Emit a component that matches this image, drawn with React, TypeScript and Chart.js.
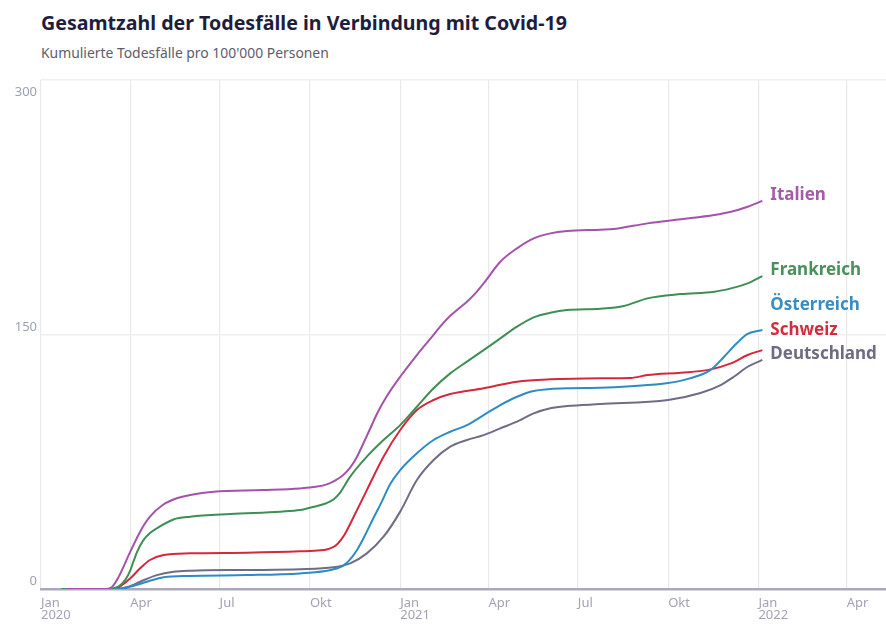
import React, { useEffect, useRef } from "react";
import { Chart, registerables } from "chart.js";

Chart.register(...registerables);

// Days since 1 Jan 2020 paired with cumulative deaths per 100'000 persons
const italien: [number, number][] = [
  [26, 0], [65, 0], [72, 1], [79, 7], [91, 22], [101, 33.8], [111, 42.6], [124, 49.5],
  [139, 53.6], [152, 55.4], [176, 57.3], [226, 58.3], [264, 59.3], [280, 60.2],
  [292, 61.8], [300, 64], [308, 67.2], [315, 71.5], [322, 78], [329, 86.5], [335, 94],
  [343, 104], [352, 113.3], [366, 125.1], [383, 137.9], [397, 147.7], [408, 155.5],
  [417, 161], [426, 165.5], [434, 169.3], [443, 174.5], [451, 180.1], [468, 192.9],
  [485, 200.8], [502, 206.7], [519, 209.6], [536, 211], [570, 211.8], [584, 212.2],
  [618, 215.5], [652, 217.9], [686, 220.4], [703, 222.3], [720, 225.3], [735, 228.8],
];

const frankreich: [number, number][] = [
  [21, 0], [68, 0], [76, 0.8], [81, 2.4], [86, 5.5], [91, 11], [95, 17.5], [98, 22],
  [104, 28.5], [111, 33], [118, 35.8], [135, 41], [152, 42.6], [193, 44.2], [244, 45.6],
  [264, 46.5], [277, 48.3], [290, 50.4], [298, 52.8], [305, 57], [315, 66.2], [332, 78],
  [349, 87.8], [366, 96.6], [383, 107.4], [400, 118.3], [417, 127.1], [434, 134],
  [451, 140.8], [468, 147.7], [485, 154.6], [502, 160.1], [519, 162.8], [536, 164.4],
  [570, 165.2], [594, 166.8], [618, 171.3], [652, 173.8], [686, 175.2], [703, 177.2],
  [720, 180.1], [735, 184.4],
];

const oesterreich: [number, number][] = [
  [60, 0], [75, 0], [91, 1.4], [108, 4.3], [125, 6.9], [152, 7.7], [210, 8.2],
  [264, 9.2], [290, 10.6], [300, 11.9], [308, 13.8], [315, 17.5], [322, 23], [330, 31.5],
  [338, 41], [346, 50], [356, 62], [366, 70.1], [383, 80], [400, 87.8], [417, 92.7],
  [434, 96.6], [451, 102.5], [468, 108.4], [485, 113.3], [502, 116.7], [536, 118.3],
  [570, 118.6], [601, 119.5], [639, 121.4], [660, 124], [682, 129], [696, 136.9],
  [709, 144.8], [720, 150.3], [735, 152.6],
];

const schweiz: [number, number][] = [
  [55, 0], [75, 0], [83, 2.5], [91, 6.3], [101, 12.2], [111, 17.1], [125, 20], [152, 21],
  [210, 21.4], [264, 22.2], [285, 22.8], [293, 23.6], [300, 25.5], [306, 29.3],
  [311, 33.8], [316, 39.5], [332, 58.3], [349, 78], [366, 93.7], [383, 105.5],
  [400, 111.4], [417, 114.9], [451, 118.3], [485, 122.2], [519, 123.6], [570, 124.2],
  [601, 124.4], [618, 126.1], [652, 127.5], [679, 129], [703, 133], [720, 137.9],
  [735, 140.8],
];

const deutschland: [number, number][] = [
  [40, 0], [78, 0], [90, 1.5], [101, 4.3], [118, 8.2], [135, 10.2], [152, 10.8],
  [210, 11.2], [264, 11.6], [298, 12.8], [315, 15.1], [332, 21], [349, 30.8],
  [366, 45.6], [383, 64.2], [400, 76], [417, 83.9], [434, 87.8], [451, 90.7],
  [468, 94.7], [485, 98.6], [502, 103.5], [519, 106.5], [536, 107.8], [570, 109],
  [639, 111.4], [672, 115.5], [692, 120], [706, 125.1], [720, 131], [735, 135],
];

const seriesNames = ["Italien", "Frankreich", "Österreich", "Schweiz", "Deutschland"];
const seriesData = [italien, frankreich, oesterreich, schweiz, deutschland];
const lineColors = ["#a552aa", "#3e8f55", "#2e8bc3", "#d6283b", "#6f6c85"];
const labelColors = ["#a45ba8", "#4a905b", "#3a8dc1", "#d42c3e", "#6e6c82"];

// Quarter starts as day offsets from 1 Jan 2020
const xTickDays = [0, 91, 182, 274, 366, 456, 547, 639, 731, 821];
const xTickLabels: (string | string[])[] = [
  ["Jan", "2020"], "Apr", "Jul", "Okt", ["Jan", "2021"], "Apr", "Jul", "Okt", ["Jan", "2022"], "Apr",
];
const yTicks = [0, 150, 300];

const FONT = "'Noto Sans', 'Open Sans', sans-serif";

const yLabelPlugin = {
  id: "yLabels",
  afterDraw(chart: Chart) {
    const { ctx } = chart;
    const y = chart.scales.y;
    const top = chart.chartArea.top;
    ctx.save();
    ctx.font = `13px ${FONT}`;
    ctx.fillStyle = "#9ba0b6";
    ctx.textAlign = "right";
    ctx.textBaseline = "alphabetic";
    yTicks.forEach((v) => {
      const py = y.getPixelForValue(v);
      const ty = py - top < 5 ? py + 16 : py - 4;
      ctx.fillText(String(v), 37, ty);
    });
    ctx.restore();
  },
};

const endLabelPlugin = {
  id: "endLabels",
  afterDatasetsDraw(chart: Chart) {
    const { ctx } = chart;
    const items = chart.data.datasets.map((ds, i) => {
      const pts = chart.getDatasetMeta(i).data;
      const last = pts[pts.length - 1];
      return { i, x: last.x, y: last.y - 5.5 };
    });
    // stack labels upward from the lowest so they keep a minimum gap
    items.sort((a, b) => b.y - a.y);
    const gap = 24.5;
    for (let k = 1; k < items.length; k++) {
      items[k].y = Math.min(items[k].y, items[k - 1].y - gap);
    }
    ctx.save();
    ctx.font = `bold 17px ${FONT}`;
    ctx.textAlign = "left";
    ctx.textBaseline = "middle";
    items.forEach((it) => {
      ctx.fillStyle = labelColors[it.i];
      ctx.fillText(seriesNames[it.i], it.x + 8, it.y);
    });
    ctx.restore();
  },
};

export default function App() {
  const canvasRef = useRef<HTMLCanvasElement | null>(null);

  useEffect(() => {
    if (!canvasRef.current) return;
    Chart.defaults.font.family = FONT;
    const chart = new Chart(canvasRef.current, {
      type: "line",
      data: {
        datasets: seriesData.map((d, i) => ({
          label: seriesNames[i],
          data: d.map(([x, y]) => ({ x, y })),
          borderColor: lineColors[i],
          backgroundColor: lineColors[i],
          borderWidth: 2,
          pointRadius: 0,
          cubicInterpolationMode: "monotone" as const,
          fill: false,
        })),
      },
      options: {
        animation: false,
        responsive: false,
        maintainAspectRatio: false,
        layout: { padding: { left: 41, top: 80, right: 0, bottom: 0 } },
        plugins: {
          legend: { display: false },
          tooltip: { enabled: false },
        },
        scales: {
          x: {
            type: "linear",
            min: 0,
            max: 861,
            afterBuildTicks: (scale: any) => {
              scale.ticks = xTickDays.map((v) => ({ value: v }));
            },
            afterFit: (scale: any) => {
              scale.height = 50;
            },
            grid: { color: "#e9e9ec", lineWidth: 1.2, drawTicks: false },
            border: { color: "#a9a9b9", width: 2.5 },
            ticks: {
              align: "start",
              maxRotation: 0,
              autoSkip: false,
              padding: 8,
              color: "#a2a2b6",
              font: { size: 13, lineHeight: 0.95 },
              callback: (value: any) => {
                const idx = xTickDays.indexOf(Number(value));
                return idx >= 0 ? xTickLabels[idx] : "";
              },
            },
          },
          y: {
            min: 0,
            max: 300,
            afterBuildTicks: (scale: any) => {
              scale.ticks = yTicks.map((v) => ({ value: v }));
            },
            afterFit: (scale: any) => {
              scale.width = 0;
            },
            grid: { color: "#efeff1", lineWidth: 1.5, drawTicks: false },
            border: { display: false },
            ticks: { display: false },
          },
        },
      },
      plugins: [yLabelPlugin, endLabelPlugin],
    });
    return () => chart.destroy();
  }, []);

  return (
    <div style={{ position: "absolute", left: 0, top: 0, width: 886, height: 639, background: "#fff", fontFamily: FONT }}>
      <div
        style={{
          position: "absolute",
          left: 41,
          top: 10,
          fontSize: 19.6,
          fontWeight: 700,
          color: "#1e1e3c",
          lineHeight: "26px",
          whiteSpace: "nowrap",
        }}
      >
        Gesamtzahl der Todesfälle in Verbindung mit Covid-19
      </div>
      <div
        style={{
          position: "absolute",
          left: 41,
          top: 43,
          fontSize: 13.9,
          color: "#5c5c6c",
          lineHeight: "19px",
          whiteSpace: "nowrap",
        }}
      >
        Kumulierte Todesfälle pro 100'000 Personen
      </div>
      <canvas ref={canvasRef} width={886} height={639} style={{ position: "absolute", left: 0, top: 0 }} />
    </div>
  );
}
